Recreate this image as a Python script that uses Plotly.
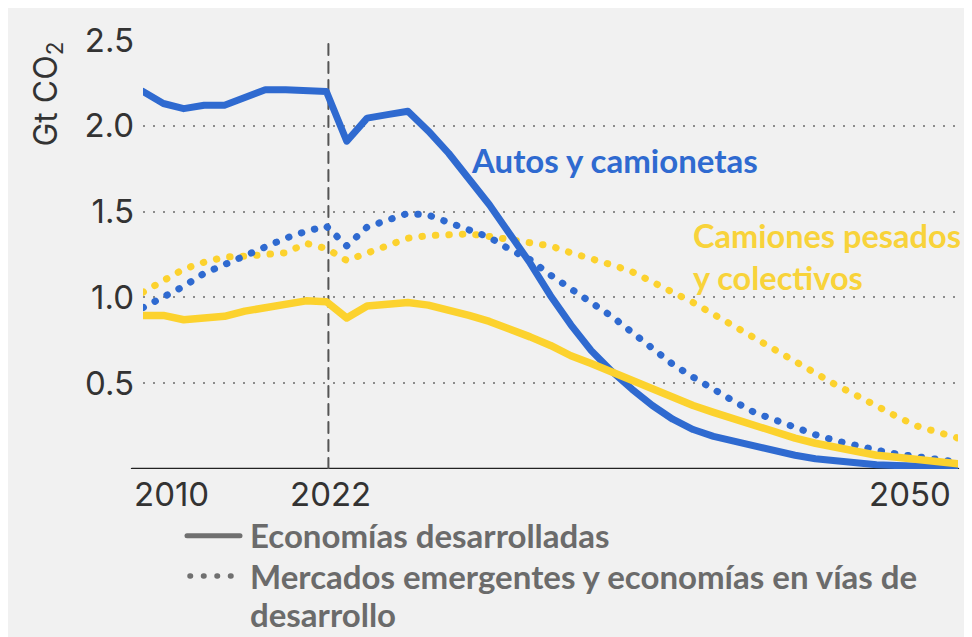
import plotly.graph_objects as go

years = list(range(2010, 2051))

# Autos y camionetas (Gt CO2)
cars_advanced = [2.20, 2.13, 2.10, 2.12, 2.12, 2.17, 2.21, 2.21, 2.205, 2.20,
                 1.91, 2.045, 2.065, 2.085, 1.97, 1.84, 1.69, 1.54, 1.37, 1.20,
                 1.01, 0.84, 0.69, 0.57, 0.465, 0.37, 0.29, 0.23, 0.19, 0.16,
                 0.13, 0.10, 0.08, 0.06, 0.045, 0.035, 0.025, 0.02, 0.015, 0.01, 0.01]
cars_emerging = [0.94, 1.00, 1.065, 1.14, 1.19, 1.25, 1.295, 1.345, 1.385, 1.415,
                 1.30, 1.41, 1.45, 1.49, 1.48, 1.44, 1.40, 1.35, 1.28, 1.22,
                 1.13, 1.055, 0.97, 0.89, 0.80, 0.705, 0.61, 0.535, 0.46, 0.395,
                 0.33, 0.285, 0.24, 0.20, 0.165, 0.135, 0.11, 0.087, 0.068, 0.053, 0.04]

# Camiones pesados y colectivos (Gt CO2)
trucks_advanced = [0.895, 0.895, 0.87, 0.885, 0.89, 0.92, 0.94, 0.96, 0.98, 0.975,
                   0.88, 0.95, 0.96, 0.97, 0.955, 0.93, 0.895, 0.86, 0.82, 0.77,
                   0.72, 0.66, 0.615, 0.565, 0.515, 0.47, 0.42, 0.37, 0.33, 0.29,
                   0.255, 0.215, 0.18, 0.15, 0.125, 0.10, 0.08, 0.068, 0.053, 0.042, 0.03]
trucks_emerging = [1.03, 1.095, 1.165, 1.205, 1.235, 1.24, 1.245, 1.26, 1.315, 1.285,
                   1.215, 1.26, 1.31, 1.345, 1.36, 1.37, 1.37, 1.355, 1.34, 1.325,
                   1.30, 1.26, 1.23, 1.19, 1.15, 1.095, 1.03, 0.97, 0.90, 0.84,
                   0.765, 0.69, 0.62, 0.56, 0.49, 0.43, 0.365, 0.305, 0.25, 0.21, 0.18]

y_tick_vals = [0.5, 1.0, 1.5, 2.0, 2.5]
y_tick_text = ["0.5", "1.0", "1.5", "2.0", "2.5"]
x_tick_text = ["2010", "2022", "2050"]
divider_year = 2019.1  # where the dashed "2022" marker sits in the picture

BLUE = "#2f6ad0"
YELLOW = "#fcd22e"
GRAY = "#707070"
GRAY_TXT = "#6b6b6b"
BG = "#f1f1f1"

# plot area is 815 x 437 px, helpers to place legend bits in paper coords
PW, PH = 815, 437


def px_x(px):
    return (px - 135) / PW


def px_y(py):
    return (461 - py) / PH


fig = go.Figure()

dots = "0.5px,13px"  # rounded caps are switched on after render -> round dots
fig.add_trace(go.Scatter(x=years, y=trucks_emerging, mode="lines",
                         line=dict(color=YELLOW, width=7, dash=dots), showlegend=False))
fig.add_trace(go.Scatter(x=years, y=cars_emerging, mode="lines",
                         line=dict(color=BLUE, width=7, dash=dots), showlegend=False))
fig.add_trace(go.Scatter(x=years, y=cars_advanced, mode="lines",
                         line=dict(color=BLUE, width=7), showlegend=False))
fig.add_trace(go.Scatter(x=years, y=trucks_advanced, mode="lines",
                         line=dict(color=YELLOW, width=7.5), showlegend=False))

# base line and the dashed marker
fig.add_shape(type="line", xref="paper", yref="y", x0=-0.0135, x1=1, y0=0, y1=0,
              line=dict(color="#222222", width=2.5), layer="between")
fig.add_shape(type="line", xref="x", yref="y", x0=divider_year, x1=divider_year,
              y0=0, y1=2.5, line=dict(color="#555555", width=2, dash="11px,7px"),
              layer="between")

tick_font = dict(family="Inter", size=33, color="#333333")
anchors = ["left", "center", "right"]
shifts = [-11, 2, -5]
for txt, pos, anc, sh in zip(x_tick_text, [2010, divider_year, 2050], anchors, shifts):
    fig.add_annotation(x=pos, y=0, xref="x", yref="y", text=txt, showarrow=False,
                       xanchor=anc, yanchor="middle", xshift=sh, yshift=-25, font=tick_font)

fig.add_annotation(x=0, y=1, xref="paper", yref="paper", xshift=-96,
                   text="Gt CO<sub>2</sub>", textangle=-90, showarrow=False,
                   xanchor="center", yanchor="top",
                   font=dict(family="Inter", size=32, color="#333333"))

fig.add_annotation(x=2026.0, y=1.80, text="Autos y camionetas", showarrow=False,
                   xanchor="left", yanchor="middle",
                   font=dict(family="Lato", size=33, color=BLUE, weight="bold"))
fig.add_annotation(x=2036.9, y=1.24, text="Camiones pesados<br>y colectivos", showarrow=False,
                   xanchor="left", yanchor="middle", align="left",
                   font=dict(family="Lato", size=32.5, color="#f8d33a", weight="bold"))

# legend drawn by hand
leg_font = dict(family="Lato", size=33, color=GRAY_TXT, weight="bold")
fig.add_shape(type="line", xref="paper", yref="paper", x0=px_x(179), x1=px_x(232),
              y0=px_y(529), y1=px_y(529), line=dict(color=GRAY, width=5))
fig.add_shape(type="line", xref="paper", yref="paper", x0=px_x(182), x1=px_x(236),
              y0=px_y(570), y1=px_y(570), line=dict(color=GRAY, width=5.5, dash="0.5px,13px"))
fig.add_annotation(x=px_x(240), y=px_y(528), xref="paper", yref="paper",
                   text="Economías desarrolladas", showarrow=False,
                   xanchor="left", yanchor="middle", font=leg_font)
fig.add_annotation(x=px_x(240), y=px_y(570), xref="paper", yref="paper",
                   text="Mercados emergentes y economías en vías de", showarrow=False,
                   xanchor="left", yanchor="middle", font=leg_font)
fig.add_annotation(x=px_x(240), y=px_y(609), xref="paper", yref="paper",
                   text="desarrollo", showarrow=False,
                   xanchor="left", yanchor="middle", font=leg_font)

fig.update_xaxes(range=[2010, 2050], showgrid=False, zeroline=False, showline=False,
                 showticklabels=False, ticks="")
fig.update_yaxes(range=[0, 2.5], tickvals=y_tick_vals, ticktext=y_tick_text,
                 showgrid=True, gridcolor="#8c8c8c", gridwidth=2, griddash="2px,8px",
                 zeroline=False, showline=False, ticks="", ticklabelstandoff=8,
                 tickfont=tick_font)

fig.update_layout(width=972, height=637,
                  margin=dict(l=135, r=22, t=24, b=176),
                  paper_bgcolor=BG, plot_bgcolor=BG, showlegend=False)

# round caps so the dotted series come out as real dots
round_caps = """
document.querySelectorAll('.scatterlayer .js-line, .shapelayer path').forEach(function (p) {
    p.style.strokeLinecap = 'round';
    p.style.strokeLinejoin = 'round';
});
"""
fig.write_html("out.html", post_script=round_caps)
